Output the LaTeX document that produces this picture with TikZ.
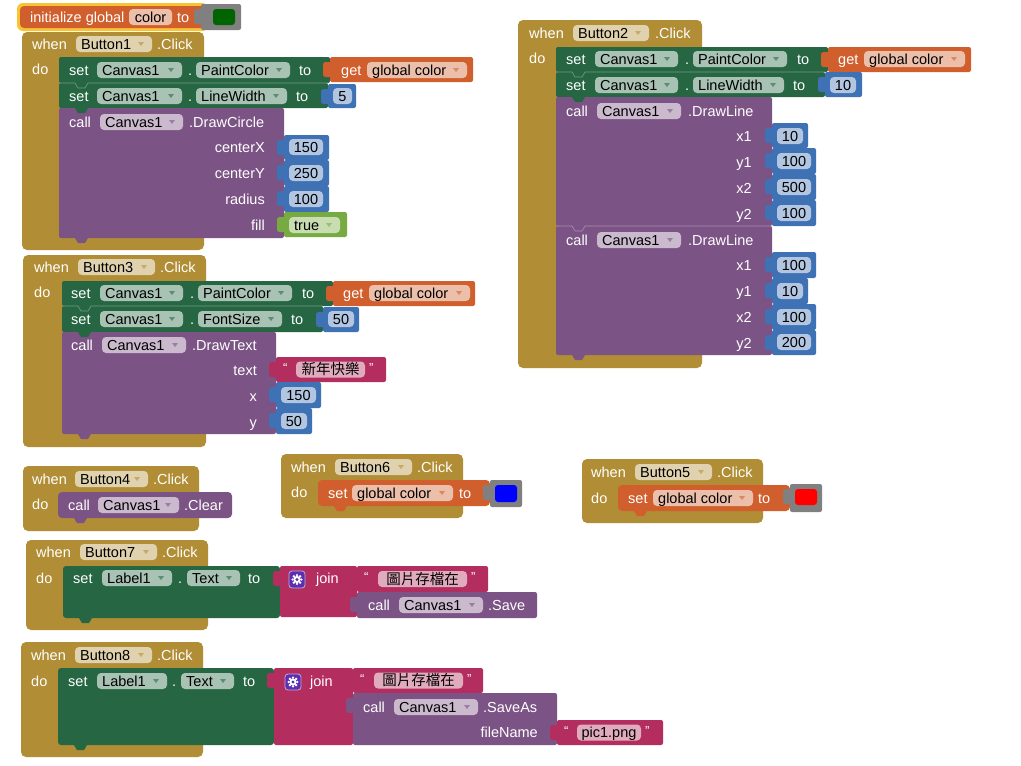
\documentclass[tikz,border=0pt]{standalone}
\usepackage{fontspec}
\setmainfont{Liberation Sans}
\newfontfamily\cjk{Noto Sans CJK TC}
\definecolor{cgold}{RGB}{177,142,53}
\definecolor{cgreen}{RGB}{38,102,67}
\definecolor{cpurp}{RGB}{124,83,133}
\definecolor{corange}{RGB}{208,95,45}
\definecolor{cblue}{RGB}{63,113,181}
\definecolor{clogic}{RGB}{119,171,65}
\definecolor{cstr}{RGB}{179,45,94}
\definecolor{cgrey}{RGB}{128,128,128}
\definecolor{cyel}{RGB}{250,195,50}
\definecolor{cgear}{RGB}{93,47,176}
\definecolor{cdkgreen}{RGB}{0,100,0}
\newcounter{nd}
\tikzset{
  wtxt/.style={text=white, inner sep=0pt, text height=10pt, text depth=0pt, font=\fontsize{14.5}{17}\selectfont},
  dtxt/.style={text=black, inner sep=0pt, text height=10pt, text depth=0pt, font=\fontsize{14.5}{17}\selectfont},
  qtxt/.style={text=white, inner sep=0pt, text height=10pt, text depth=0pt, yshift=2.5pt, font=\fontsize{13}{15}\selectfont},
}
% white text, west anchored
\newcommand\aiT[3]{\stepcounter{nd}\node[wtxt,anchor=west] (n\arabic{nd}) at (#1,#2) {#3};}
% white text, east anchored
\newcommand\aiR[3]{\stepcounter{nd}\node[wtxt,anchor=east] (n\arabic{nd}) at (#1,#2) {#3};}
% dropdown pill: x0 x1 yc color text
\newcommand\aiPD[5]{%
  \fill[#4!40!white, rounded corners=4] (#1,#3-8) rectangle (#2,#3+8);
  \stepcounter{nd}\node[dtxt,anchor=west] (n\arabic{nd}) at (#1+5,#3) {#5};
  \fill[#4!75!white] (#2-14,#3-2) -- (#2-8,#3-2) -- (#2-11,#3+2) -- cycle;}
% centered pill
\newcommand\aiPC[5]{%
  \fill[#4!40!white, rounded corners=4] (#1,#3-8) rectangle (#2,#3+8);
  \stepcounter{nd}\node[dtxt] (n\arabic{nd}) at ({(#1+#2)/2},#3) {#5};}
% value block with left output tab
\newcommand\aiVB[5]{%
  \fill[#5, rounded corners=2.5] (#1-7,#2+5) rectangle (#1+3,#2+20);
  \fill[#5, rounded corners=2] (#1,#2) rectangle (#3,#4);}
% bottom statement tab
\newcommand\aiTab[3]{\fill[#3] (#1+16,#2-1) -- (#1+16,#2) -- (#1+19,#2+5) -- (#1+26,#2+5) -- (#1+29,#2) -- (#1+29,#2-1) -- cycle;}
% separator between stacked statements
\newcommand\aiSep[4]{\draw[#4!65!white, line width=0.6pt] (#1+1,#3) -- (#1+16,#3) -- (#1+19,#3+5) -- (#1+26,#3+5) -- (#1+29,#3) -- (#2,#3);}
% string block
\newcommand\aiStr[7]{%
  \aiVB{#1}{#2}{#3}{#4}{cstr}
  \pgfmathsetmacro\aisy{(#2+#4)/2}
  \stepcounter{nd}\node[qtxt,anchor=west] (n\arabic{nd}) at (#1+7,\aisy) {“};
  \aiPC{#5}{#6}{\aisy}{cstr}{#7}
  \stepcounter{nd}\node[qtxt,anchor=west] (n\arabic{nd}) at (#6+4,\aisy) {”};}
% gear icon
\newcommand\aiGear[4]{%
  \fill[cgear, draw=white!60!cgear, line width=0.8pt, rounded corners=3] (#1,#2) rectangle (#3,#4);
  \pgfmathsetmacro\aigx{(#1+#3)/2}
  \pgfmathsetmacro\aigy{(#2+#4)/2}
  \fill[white] (\aigx,\aigy) circle (3.6);
  \foreach \a in {0,45,...,315} \fill[white] ([shift={(\a:4.4)}]\aigx,\aigy) circle (1.3);
  \fill[cgear] (\aigx,\aigy) circle (1.6);}

\begin{document}
\begin{tikzpicture}[x=1pt,y=-1pt]
\useasboundingbox (0,0) rectangle (1021,766);
\fill[white] (0,0) rectangle (1021,766);

% ---------- initialize global ----------
\fill[cyel, rounded corners=6] (17,3) rectangle (208,31);
\fill[corange, rounded corners=4] (20,6) rectangle (205,28);
\aiT{30}{17}{initialize global}
\aiPC{129}{172}{17}{corange}{color}
\aiT{177}{17}{to}
\aiVB{201}{4}{241}{30}{cgrey}
\fill[cdkgreen, rounded corners=3] (213,9) rectangle (235,25);

% ---------- Button1 ----------
\fill[cgold, rounded corners=5] (22,32) rectangle (204,250);
\aiT{32}{44}{when}\aiPD{76}{152}{44}{cgold}{Button1}\aiT{157}{44}{.Click}
\aiT{32}{69}{do}
\fill[cgreen, rounded corners=2] (59,57) rectangle (330,83);
\fill[cgreen, rounded corners=2] (59,83) rectangle (328,108);
\fill[cpurp, rounded corners=2] (59,108) rectangle (284,238);
\aiSep{59}{328}{83}{cgreen}
\aiTab{59}{108}{cgreen}
\aiTab{59}{238}{cpurp}
\aiT{69}{70}{set}\aiPD{97}{182}{70}{cgreen}{Canvas1}\aiT{188}{70}{.}\aiPD{196}{290}{70}{cgreen}{PaintColor}\aiT{299}{70}{to}
\aiVB{330}{57}{473}{82}{corange}\aiT{341}{70}{get}\aiPD{367}{467}{70}{corange}{global color}
\aiT{69}{96}{set}\aiPD{97}{182}{96}{cgreen}{Canvas1}\aiT{188}{96}{.}\aiPD{196}{287}{96}{cgreen}{LineWidth}\aiT{296}{96}{to}
\aiVB{328}{84}{356}{108}{cblue}\aiPC{333}{352}{96}{cblue}{5}
\aiT{69}{122}{call}\aiPD{100}{183}{122}{cpurp}{Canvas1}\aiT{189}{122}{.DrawCircle}
\aiR{265}{147}{centerX}\aiR{265}{173}{centerY}\aiR{265}{199}{radius}\aiR{265}{225}{fill}
\aiVB{284}{135}{329}{160}{cblue}\aiPC{289}{323}{147}{cblue}{150}
\aiVB{284}{160}{329}{186}{cblue}\aiPC{289}{323}{173}{cblue}{250}
\aiVB{284}{186}{329}{212}{cblue}\aiPC{289}{323}{199}{cblue}{100}
\aiVB{284}{212}{347}{237}{clogic}\aiPD{289}{340}{225}{clogic}{true}

% ---------- Button3 ----------
\fill[cgold, rounded corners=5] (23,255) rectangle (206,447);
\aiT{34}{267}{when}\aiPD{78}{155}{267}{cgold}{Button3}\aiT{160}{267}{.Click}
\aiT{34}{292}{do}
\fill[cgreen, rounded corners=2] (62,281) rectangle (333,306);
\fill[cgreen, rounded corners=2] (62,306) rectangle (323,332);
\fill[cpurp, rounded corners=2] (62,332) rectangle (276,434);
\aiSep{62}{323}{306}{cgreen}
\aiTab{62}{332}{cgreen}
\aiTab{62}{434}{cpurp}
\aiT{71}{293}{set}\aiPD{100}{183}{293}{cgreen}{Canvas1}\aiT{190}{293}{.}\aiPD{198}{292}{293}{cgreen}{PaintColor}\aiT{302}{293}{to}
\aiVB{333}{281}{475}{306}{corange}\aiT{343}{293}{get}\aiPD{369}{470}{293}{corange}{global color}
\aiT{71}{319}{set}\aiPD{100}{183}{319}{cgreen}{Canvas1}\aiT{190}{319}{.}\aiPD{198}{282}{319}{cgreen}{FontSize}\aiT{291}{319}{to}
\aiVB{323}{307}{359}{332}{cblue}\aiPC{328}{354}{319}{cblue}{50}
\aiT{71}{345}{call}\aiPD{102}{186}{345}{cpurp}{Canvas1}\aiT{192}{345}{.DrawText}
\aiR{257}{370}{text}\aiR{257}{396}{x}\aiR{257}{422}{y}
\aiStr{276}{357}{386}{382}{296}{365}{\cjk 新年快樂}
\aiVB{276}{382}{321}{408}{cblue}\aiPC{281}{316}{395}{cblue}{150}
\aiVB{276}{408}{312}{434}{cblue}\aiPC{281}{307}{421}{cblue}{50}

% ---------- Button2 ----------
\fill[cgold, rounded corners=5] (518,20) rectangle (702,368);
\aiT{529}{33}{when}\aiPD{573}{649}{33}{cgold}{Button2}\aiT{655}{33}{.Click}
\aiT{529}{58}{do}
\fill[cgreen, rounded corners=2] (556,47) rectangle (828,72);
\fill[cgreen, rounded corners=2] (556,72) rectangle (825,97);
\fill[cpurp, rounded corners=2] (556,97) rectangle (772,226);
\fill[cpurp, rounded corners=2] (556,226) rectangle (772,355);
\aiSep{556}{825}{72}{cgreen}
\aiTab{556}{97}{cgreen}
\aiSep{556}{772}{226}{cpurp}
\aiTab{556}{355}{cpurp}
\aiT{566}{59}{set}\aiPD{595}{678}{59}{cgreen}{Canvas1}\aiT{685}{59}{.}\aiPD{693}{787}{59}{cgreen}{PaintColor}\aiT{797}{59}{to}
\aiVB{828}{47}{971}{72}{corange}\aiT{838}{59}{get}\aiPD{864}{965}{59}{corange}{global color}
\aiT{566}{85}{set}\aiPD{595}{678}{85}{cgreen}{Canvas1}\aiT{685}{85}{.}\aiPD{693}{784}{85}{cgreen}{LineWidth}\aiT{793}{85}{to}
\aiVB{825}{72}{862}{97}{cblue}\aiPC{830}{856}{85}{cblue}{10}
\aiT{566}{111}{call}\aiPD{597}{681}{111}{cpurp}{Canvas1}\aiT{688}{111}{.DrawLine}
\aiR{752}{136}{x1}\aiR{752}{162}{y1}\aiR{752}{188}{x2}\aiR{752}{214}{y2}
\aiVB{772}{123}{808}{148}{cblue}\aiPC{777}{803}{136}{cblue}{10}
\aiVB{772}{148}{816}{174}{cblue}\aiPC{777}{811}{161}{cblue}{100}
\aiVB{772}{174}{816}{200}{cblue}\aiPC{777}{811}{187}{cblue}{500}
\aiVB{772}{200}{816}{226}{cblue}\aiPC{777}{811}{213}{cblue}{100}
\aiT{566}{240}{call}\aiPD{597}{681}{240}{cpurp}{Canvas1}\aiT{688}{240}{.DrawLine}
\aiR{752}{265}{x1}\aiR{752}{291}{y1}\aiR{752}{317}{x2}\aiR{752}{343}{y2}
\aiVB{772}{252}{816}{278}{cblue}\aiPC{777}{811}{265}{cblue}{100}
\aiVB{772}{278}{808}{304}{cblue}\aiPC{777}{803}{291}{cblue}{10}
\aiVB{772}{304}{816}{330}{cblue}\aiPC{777}{811}{317}{cblue}{100}
\aiVB{772}{330}{816}{355}{cblue}\aiPC{777}{811}{342}{cblue}{200}

% ---------- Button4 ----------
\fill[cgold, rounded corners=5] (23,466) rectangle (199,531);
\aiT{32}{479}{when}\aiPD{75}{148}{479}{cgold}{Button4}\aiT{153}{479}{.Click}
\aiT{32}{504}{do}
\fill[cpurp, rounded corners=4] (58,492) rectangle (232,518);
\aiTab{58}{518}{cpurp}
\aiT{68}{505}{call}\aiPD{98}{179}{505}{cpurp}{Canvas1}\aiT{184}{505}{.Clear}

% ---------- Button6 ----------
\fill[cgold, rounded corners=5] (281,454) rectangle (463,518);
\aiT{291}{467}{when}\aiPD{335}{412}{467}{cgold}{Button6}\aiT{417}{467}{.Click}
\aiT{291}{492}{do}
\fill[corange, rounded corners=4] (318,480) rectangle (490,506);
\aiTab{318}{506}{corange}
\aiT{328}{493}{set}\aiPD{352}{453}{493}{corange}{global color}\aiT{459}{493}{to}
\aiVB{490}{480}{522}{507}{cgrey}
\fill[blue, rounded corners=3] (495,485) rectangle (517,502);

% ---------- Button5 ----------
\fill[cgold, rounded corners=5] (582,459) rectangle (763,523);
\aiT{591}{472}{when}\aiPD{635}{712}{472}{cgold}{Button5}\aiT{717}{472}{.Click}
\aiT{591}{498}{do}
\fill[corange, rounded corners=4] (618,485) rectangle (790,511);
\aiTab{618}{511}{corange}
\aiT{628}{498}{set}\aiPD{653}{753}{498}{corange}{global color}\aiT{758}{498}{to}
\aiVB{790}{484}{822}{512}{cgrey}
\fill[red, rounded corners=3] (795,489) rectangle (817,505);

% ---------- Button7 ----------
\fill[cgold, rounded corners=5] (26,540) rectangle (208,630);
\aiT{36}{552}{when}\aiPD{80}{157}{552}{cgold}{Button7}\aiT{162}{552}{.Click}
\aiT{36}{578}{do}
\fill[cgreen, rounded corners=3] (63,566) rectangle (280,618);
\aiTab{63}{618}{cgreen}
\aiT{73}{578}{set}\aiPD{102}{172}{578}{cgreen}{Label1}\aiT{178}{578}{.}\aiPD{187}{240}{578}{cgreen}{Text}\aiT{248}{578}{to}
\aiVB{280}{566}{357}{617}{cstr}
\aiGear{289}{571}{305}{588}
\aiT{316}{578}{join}
\aiStr{357}{566}{488}{592}{378}{467}{\cjk 圖片存檔在}
\aiVB{357}{592}{537}{618}{cpurp}
\aiT{368}{605}{call}\aiPD{399}{483}{605}{cpurp}{Canvas1}\aiT{488}{605}{.Save}

% ---------- Button8 ----------
\fill[cgold, rounded corners=5] (21,642) rectangle (203,757);
\aiT{31}{655}{when}\aiPD{75}{152}{655}{cgold}{Button8}\aiT{157}{655}{.Click}
\aiT{31}{681}{do}
\fill[cgreen, rounded corners=3] (58,668) rectangle (274,745);
\aiTab{58}{745}{cgreen}
\aiT{68}{681}{set}\aiPD{97}{167}{681}{cgreen}{Label1}\aiT{172}{681}{.}\aiPD{181}{234}{681}{cgreen}{Text}\aiT{243}{681}{to}
\aiVB{274}{668}{353}{745}{cstr}
\aiGear{285}{674}{301}{690}
\aiT{310}{681}{join}
\aiStr{353}{668}{483}{693}{374}{463}{\cjk 圖片存檔在}
\aiVB{353}{693}{557}{745}{cpurp}
\aiT{363}{707}{call}\aiPD{394}{478}{707}{cpurp}{Canvas1}\aiT{483}{707}{.SaveAs}
\aiR{538}{732}{fileName}
\aiStr{557}{720}{663}{745}{577}{641}{pic1.png}
\end{tikzpicture}
\end{document}
